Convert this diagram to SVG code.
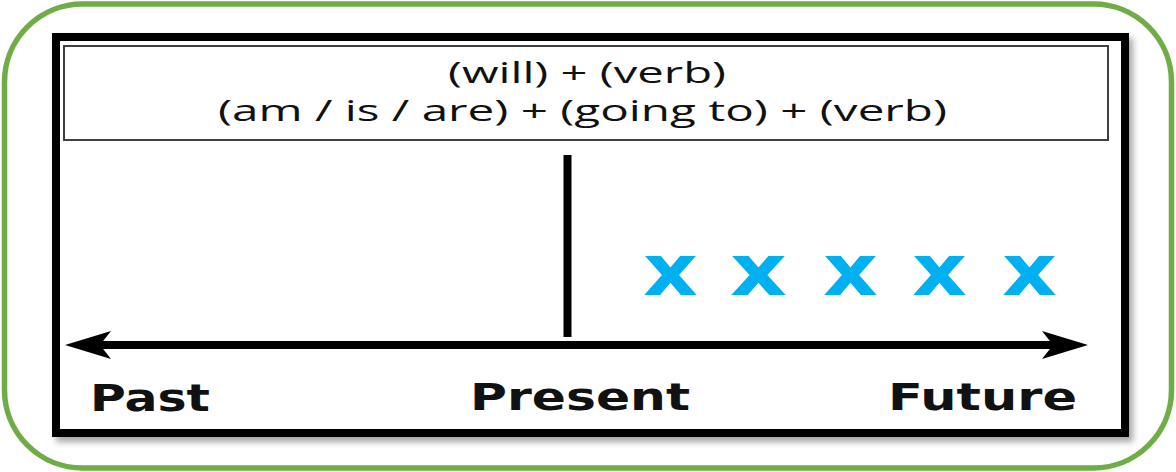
<svg xmlns="http://www.w3.org/2000/svg" width="1176" height="472" viewBox="0 0 1176 472">
<defs>
<style>
.formula{font-family:"Open Sans","Liberation Sans",sans-serif;font-size:29px;fill:#111}
.label{font-family:"DejaVu Sans","Liberation Sans",sans-serif;font-weight:bold;font-size:38px;fill:#111}
.mark{font-family:"DejaVu Sans","Liberation Sans",sans-serif;font-weight:bold;font-size:72px;fill:#00B0F0}
.head{fill:#000}
</style>
<filter id="sh" x="-5%" y="-5%" width="110%" height="115%">
<feDropShadow dx="4" dy="5" stdDeviation="3" flood-color="#000" flood-opacity="0.35"/>
</filter>
</defs>
<g id="frame">
<rect x="4.5" y="4" width="1167" height="464" rx="78" ry="78" fill="#fff" stroke="#70AD47" stroke-width="5.5"/>
</g>
<g id="panel">
<rect x="56" y="37" width="1069" height="396" fill="#fff" stroke="#000" stroke-width="8" filter="url(#sh)"/>
</g>
<g id="formula-box">
<rect x="64" y="46" width="1044" height="94" fill="#fff" stroke="#404040" stroke-width="2"/>
<text class="formula" x="448" y="83" textLength="278" lengthAdjust="spacingAndGlyphs">(will) + (verb)</text>
<text class="formula" x="218" y="121" textLength="729" lengthAdjust="spacingAndGlyphs">(am / is / are) + (going to) + (verb)</text>
</g>
<g id="connectors">
<line x1="567.5" y1="155" x2="567.5" y2="337" stroke="#000" stroke-width="8"/>
<line x1="95" y1="345" x2="1058" y2="345" stroke="#000" stroke-width="8"/>
<path class="head" d="M65,345 L111,331 L100,345 L111,359 Z"/>
<path class="head" d="M1088,345 L1042,331 L1053,345 L1042,359 Z"/>
</g>
<g id="past">
<text class="label" x="90" y="411" textLength="120" lengthAdjust="spacingAndGlyphs">Past</text>
</g>
<g id="present">
<text class="label" x="470" y="410" textLength="220" lengthAdjust="spacingAndGlyphs">Present</text>
</g>
<g id="future">
<text class="label" x="888" y="410" textLength="189" lengthAdjust="spacingAndGlyphs">Future</text>
</g>
<g id="marks">
<text class="mark" x="643" y="295" textLength="55" lengthAdjust="spacingAndGlyphs">x</text>
<text class="mark" x="730" y="295" textLength="57" lengthAdjust="spacingAndGlyphs">x</text>
<text class="mark" x="823" y="295" textLength="55" lengthAdjust="spacingAndGlyphs">x</text>
<text class="mark" x="912" y="295" textLength="55" lengthAdjust="spacingAndGlyphs">x</text>
<text class="mark" x="1002" y="295" textLength="55" lengthAdjust="spacingAndGlyphs">x</text>
</g>
</svg>
